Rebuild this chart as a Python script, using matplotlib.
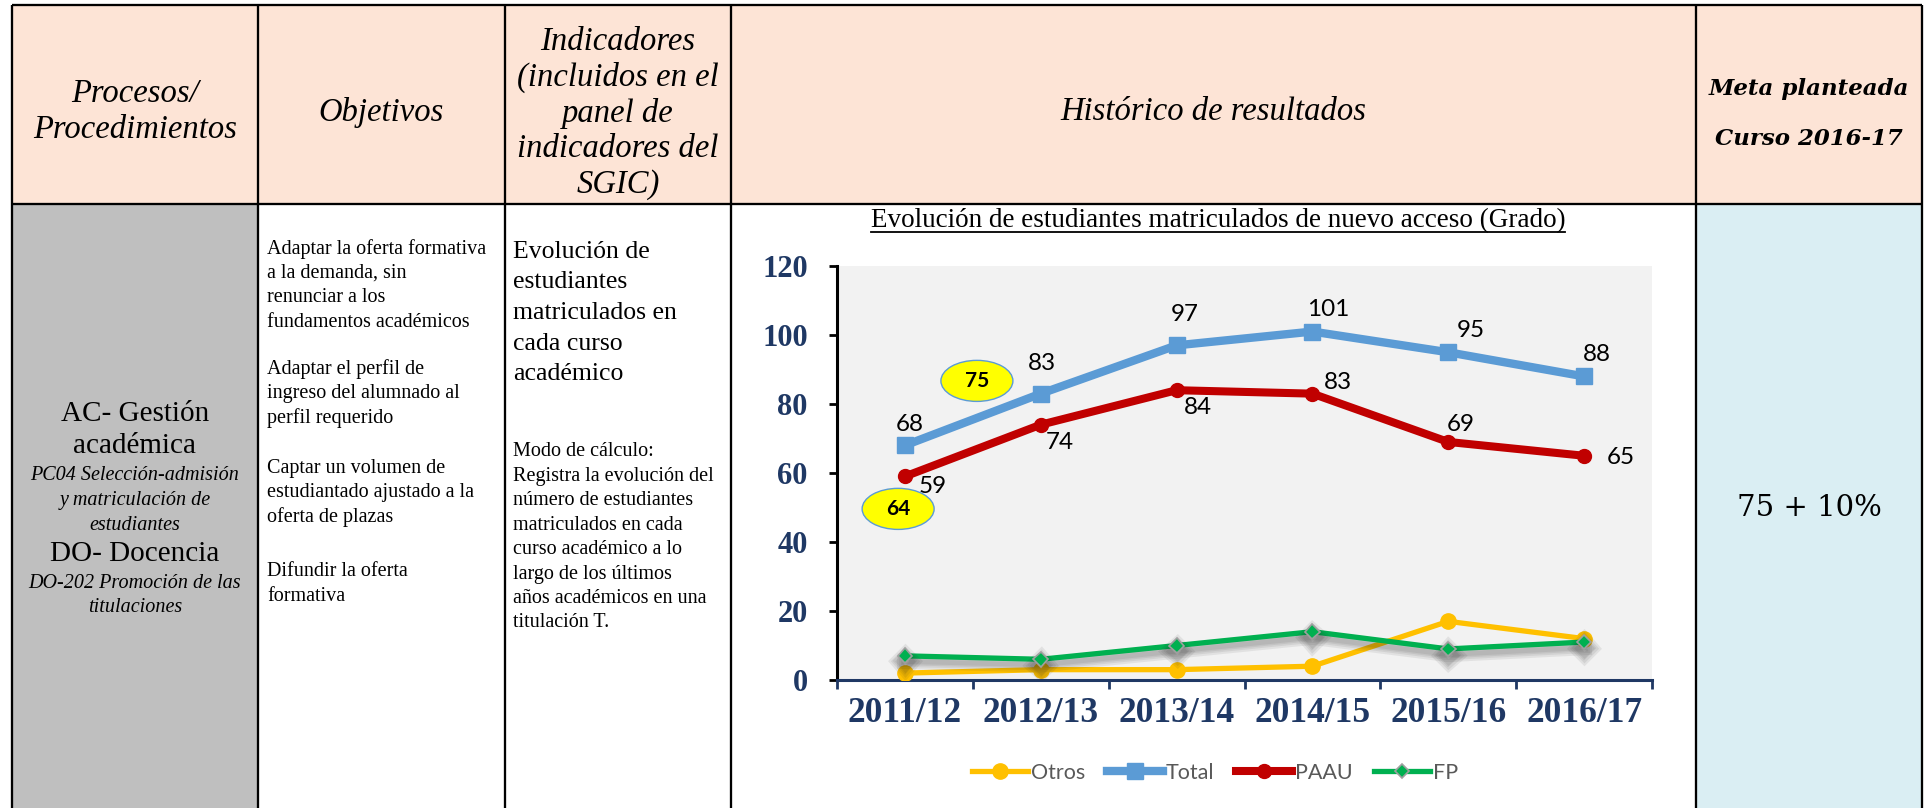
import matplotlib
matplotlib.use("Agg")
import matplotlib.pyplot as plt
import matplotlib.patheffects as pe
from matplotlib.patches import Rectangle, Ellipse
from matplotlib.lines import Line2D

# ==========================================
# Data
# ==========================================
courses = ["2011/12", "2012/13", "2013/14", "2014/15", "2015/16", "2016/17"]
otros = [2, 3, 3, 4, 17, 12]
total = [68, 83, 97, 101, 95, 88]
paau = [59, 74, 84, 83, 69, 65]
fp = [7, 6, 10, 14, 9, 11]
highlights = ["75", "64"]
y_ticks = [0, 20, 40, 60, 80, 100, 120]

# label offsets (pixels, right / down) as in the original Excel chart
total_offsets = [(5, -21), (1, -30), (8, -31), (16, -22), (23, -22), (13, -22)]
paau_offsets = [(28, 10), (19, 18), (21, 17), (26, -11), (13, -17), (37, 2)]

NAVY = "#1F3864"
PEACH = "#FDE4D6"
GREY_CELL = "#BFBFBF"
BLUE_CELL = "#DAEEF3"
SERIF = "Liberation Serif"
SANS = "Lato"
PX = 0.72  # points per pixel at dpi 100

W, H = 1930, 808
fig = plt.figure(figsize=(W / 100, H / 100), dpi=100)

# ==========================================
# Table (pixel coordinates)
# ==========================================
tb = fig.add_axes([0, 0, 1, 1])
tb.set_xlim(0, W)
tb.set_ylim(H, 0)
tb.axis("off")

cols = [12, 258, 505, 731, 1696, 1922]
top, head_bot = 5, 204

tb.add_patch(Rectangle((cols[0], top), cols[-1] - cols[0], head_bot - top, fc=PEACH, ec="none"))
tb.add_patch(Rectangle((cols[0], head_bot), cols[1] - cols[0], H - head_bot, fc=GREY_CELL, ec="none"))
tb.add_patch(Rectangle((cols[4], head_bot), cols[5] - cols[4], H - head_bot, fc=BLUE_CELL, ec="none"))

lw = 2.3 * PX
for x in cols:
    tb.plot([x, x], [top, H + 5], color="black", lw=lw, solid_capstyle="butt")
for y in [top, head_bot]:
    tb.plot([cols[0], cols[-1]], [y, y], color="black", lw=lw, solid_capstyle="butt")

# header
hkw = dict(family=SERIF, style="italic", fontsize=23.5, ha="center", va="center")
tb.text((cols[0] + cols[1]) / 2, 112, "Procesos/\nProcedimientos", linespacing=1.25, **hkw)
tb.text((cols[1] + cols[2]) / 2, 112, "Objetivos", **hkw)
tb.text((cols[2] + cols[3]) / 2, 113,
        "Indicadores\n(incluidos en el\npanel de\nindicadores del\nSGIC)", linespacing=1.2, **hkw)
tb.text((cols[3] + cols[4]) / 2, 112, "Histórico de resultados", **hkw)
mkw = dict(family="DejaVu Serif", style="italic", fontweight="bold", fontsize=16.5,
           ha="center", va="center")
tb.text((cols[4] + cols[5]) / 2, 89, "Meta planteada", **mkw)
tb.text((cols[4] + cols[5]) / 2, 139, "Curso 2016-17", **mkw)

# column 1
cx = (cols[0] + cols[1]) / 2
col1 = [("AC- Gestión", 414, 21, "normal"), ("académica", 446, 21, "normal"),
        ("PC04 Selección-admisión", 476, 14.5, "italic"), ("y matriculación de", 501, 14.5, "italic"),
        ("estudiantes", 526, 14.5, "italic"), ("DO- Docencia", 554, 21, "normal"),
        ("DO-202 Promoción de las", 583, 14.5, "italic"), ("titulaciones", 608, 14.5, "italic")]
for txt, y, fs, st in col1:
    tb.text(cx, y, txt, family=SERIF, fontsize=fs, style=st, ha="center", va="center")

# column 2
col2 = [["Adaptar la oferta formativa", "a la demanda, sin", "renunciar a los", "fundamentos académicos"],
        ["Adaptar el perfil de", "ingreso del alumnado al", "perfil requerido"],
        ["Captar un volumen de", "estudiantado ajustado a la", "oferta de plazas"],
        ["Difundir la oferta", "formativa"]]
for para, y0 in zip(col2, [249, 369, 468, 572]):
    for k, line in enumerate(para):
        tb.text(267, y0 + k * 24.4, line, family=SERIF, fontsize=14.5, ha="left", va="center")

# column 3
for k, line in enumerate(["Evolución de", "estudiantes", "matriculados en", "cada curso", "académico"]):
    tb.text(513, 252 + k * 30.5, line, family=SERIF, fontsize=18.5, ha="left", va="center")
calc = ["Modo de cálculo:", "Registra la evolución del", "número de estudiantes", "matriculados en cada",
        "curso académico a lo", "largo de los últimos", "años académicos en una", "titulación T."]
for k, line in enumerate(calc):
    tb.text(513, 452 + k * 24.4, line, family=SERIF, fontsize=14.5, ha="left", va="center")

# column 5
tb.text((cols[4] + cols[5]) / 2, 508, "75 + 10%", family="DejaVu Serif", fontsize=21,
        ha="center", va="center")

# ==========================================
# Chart
# ==========================================
x0, x1, y0, y1 = 837, 1652, 266, 680
ax = fig.add_axes([x0 / W, 1 - y1 / H, (x1 - x0) / W, (y1 - y0) / H])
ax.set_facecolor("#F2F2F2")
xs = list(range(len(courses)))

shadow = [pe.SimpleLineShadow(offset=(0, -4), shadow_color="#202020", alpha=0.08, linewidth=w)
          for w in (11, 8, 5.5, 3.5)] + [pe.Normal()]

ax.plot(xs, otros, color="#FFC000", lw=3.8, marker="o", ms=11, zorder=3, label="Otros")
ax.plot(xs, total, color="#5B9BD5", lw=6, marker="s", ms=11, zorder=4, label="Total")
ax.plot(xs, paau, color="#C00000", lw=5.8, marker="o", ms=10, zorder=4, label="PAAU")
ax.plot(xs, fp, color="#00B050", lw=3.8, marker="D", ms=7.5, mec="#A0A0A0", mew=1.2, zorder=3,
        label="FP", path_effects=shadow)

lab_kw = dict(family=SANS, fontsize=17.5, color="black", ha="center", va="center",
              textcoords="offset points", annotation_clip=False, zorder=6)
for i, v in enumerate(total):
    dx, dy = total_offsets[i]
    ax.annotate(str(v), (i, v), xytext=(dx * PX, -dy * PX), **lab_kw)
for i, v in enumerate(paau):
    dx, dy = paau_offsets[i]
    ax.annotate(str(v), (i, v), xytext=(dx * PX, -dy * PX), **lab_kw)

# yellow call-outs
for (ex, ey), txt in zip([(0.53, 86.7), (-0.05, 49.6)], highlights):
    ax.add_patch(Ellipse((ex, ey), 0.53, 11.9, fc="#FFFF00", ec="#5B9BD5", lw=1, zorder=7))
    ax.text(ex, ey, txt, family=SANS, fontsize=15, fontweight="bold", ha="center", va="center", zorder=8)

ax.set_xlim(-0.5, 5.5)
ax.set_ylim(0, 120)
ax.set_yticks(y_ticks)
ax.set_yticklabels([str(t) for t in y_ticks], family=SERIF, fontsize=22, fontweight="bold", color=NAVY)
ax.set_xticks([i - 0.5 for i in range(len(courses) + 1)])
ax.set_xticklabels([])
ax.set_xticks(xs, minor=True)
ax.set_xticklabels(courses, minor=True, family=SERIF, fontsize=25.5, fontweight="bold", color=NAVY)
ax.tick_params(axis="x", which="major", direction="out", length=6.5, width=2, color=NAVY)
ax.tick_params(axis="x", which="minor", length=0, pad=12)
ax.tick_params(axis="y", direction="out", length=6, width=2, color="black", pad=15)
for s in ["top", "right"]:
    ax.spines[s].set_visible(False)
ax.spines["left"].set_linewidth(2.2)
ax.spines["left"].set_color("black")
ax.spines["bottom"].set_linewidth(2.2)
ax.spines["bottom"].set_color(NAVY)

# title, underlined
title = fig.text(1218 / W, 1 - 221 / H, "Evolución de estudiantes matriculados de nuevo acceso (Grado)",
                 family=SERIF, fontsize=19.5, ha="center", va="center")
fig.canvas.draw()
bb = title.get_window_extent().transformed(fig.transFigure.inverted())
fig.add_artist(Line2D([bb.x0, bb.x1], [bb.y0 + 0.002, bb.y0 + 0.002], color="black", lw=1.3,
                      transform=fig.transFigure))

# legend
handles, labels = ax.get_legend_handles_labels()
leg_handles = [Line2D([], [], color=h.get_color(), lw=h.get_linewidth(), marker=h.get_marker(),
                      ms=h.get_markersize(), mec=h.get_mec(), mew=h.get_mew()) for h in handles]
fig.legend(leg_handles, labels, loc="center", bbox_to_anchor=(1215 / W, 1 - 773 / H), ncol=4,
           frameon=False, prop={"family": SANS, "size": 15.5}, labelcolor="#595959",
           handlelength=2.6, handletextpad=0.15, columnspacing=1.0)

fig.savefig("out.png", dpi=100)
